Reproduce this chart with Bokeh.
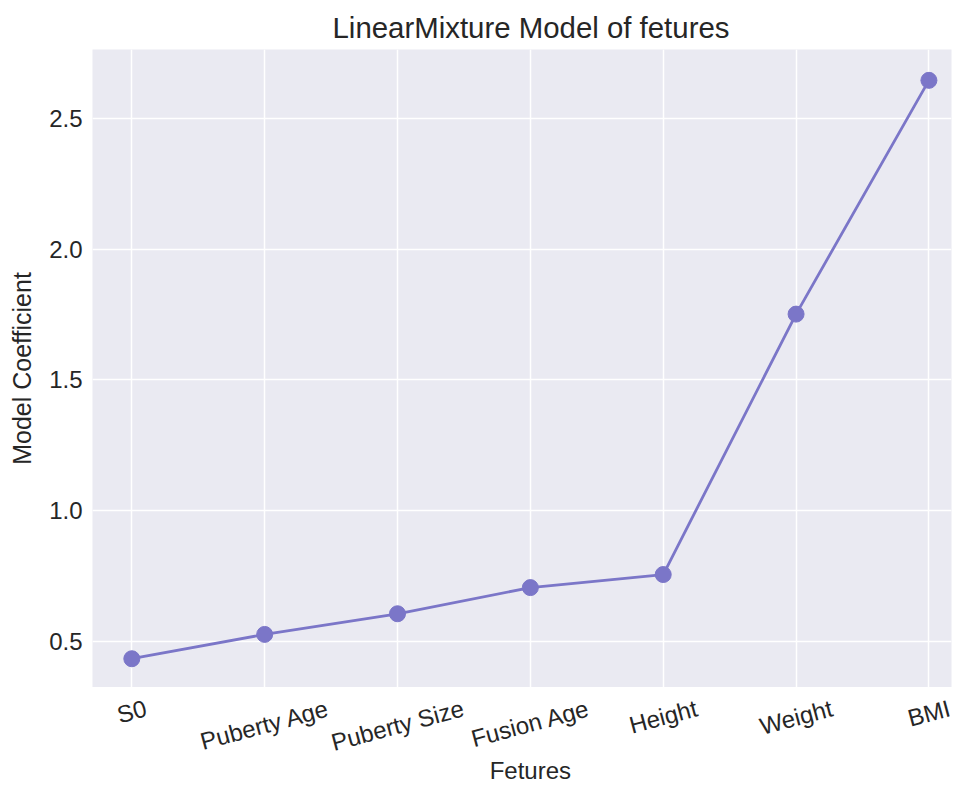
import math
from bokeh.plotting import figure
from bokeh.layouts import column
from bokeh.models import Range1d, FixedTicker, NumeralTickFormatter, ColumnDataSource
from bokeh.core.properties import value
from bokeh.embed import file_html
from bokeh.resources import INLINE

# ---- data ----
features = ["S0", "Puberty Age", "Puberty Size", "Fusion Age", "Height", "Weight", "BMI"]
coefficients = [0.433, 0.526, 0.605, 0.705, 0.755, 1.751, 2.645]
y_ticks = [0.5, 1.0, 1.5, 2.0, 2.5]

title_text = "LinearMixture Model of fetures"
x_label = "Fetures"
y_label = "Model Coefficient"

LINE_COLOR = "#7B76C8"
TEXT_COLOR = "#262626"
FONT = "Liberation Sans"
TICK_FS = 24
ROT = 15

W = 953
FRAME_LEFT, FRAME_RIGHT_PAD, FRAME_TOP, FRAME_BOTTOM = 92, 2, 49, 687
BOTTOM_H = 785 - FRAME_BOTTOM

x_pos = list(range(len(features)))
xr = Range1d(-0.296, 6.17)

p = figure(width=W, height=FRAME_BOTTOM,
           x_range=xr, y_range=Range1d(0.323, 2.763),
           output_backend="svg", toolbar_location=None,
           min_border_left=FRAME_LEFT, min_border_right=FRAME_RIGHT_PAD,
           min_border_top=FRAME_TOP, min_border_bottom=0)

p.background_fill_color = "#EAEAF2"
p.border_fill_color = "white"
p.outline_line_color = None

# title
p.title.text = title_text
p.title.text_font = FONT
p.title.text_font_size = "29.4px"
p.title.text_font_style = "normal"
p.title.text_color = TEXT_COLOR
p.title.align = "left"
p.title.offset = 240
p.title.standoff = 12

# x axis labels drawn in a strip below (matplotlib-like centred rotated labels)
p.xaxis.visible = False
p.xgrid.ticker = FixedTicker(ticks=x_pos)

# y axis
p.yaxis.ticker = FixedTicker(ticks=y_ticks)
p.ygrid.ticker = FixedTicker(ticks=y_ticks)
p.yaxis.formatter = NumeralTickFormatter(format="0.0")
p.yaxis.major_label_text_font = FONT
p.yaxis.major_label_text_font_size = f"{TICK_FS}px"
p.yaxis.major_label_text_color = TEXT_COLOR
p.yaxis.major_tick_out = 0
p.yaxis.major_tick_in = 0
p.yaxis.minor_tick_out = 0
p.yaxis.minor_tick_in = 0
p.yaxis.axis_line_color = None
p.yaxis.major_label_standoff = 10
p.yaxis.axis_label = y_label
p.yaxis.axis_label_text_font = FONT
p.yaxis.axis_label_text_font_size = "25px"
p.yaxis.axis_label_text_font_style = "normal"
p.yaxis.axis_label_text_color = TEXT_COLOR
p.yaxis.axis_label_standoff = 10

for g in (p.xgrid, p.ygrid):
    g.grid_line_color = "white"
    g.grid_line_width = 1.5

p.line(x_pos, coefficients, line_color=LINE_COLOR, line_width=2.8)
p.scatter(x_pos, coefficients, size=16, fill_color=LINE_COLOR, line_color=LINE_COLOR)

# ---- bottom strip: rotated category labels and x-axis label ----
p2 = figure(width=W, height=BOTTOM_H, x_range=xr, y_range=Range1d(0, BOTTOM_H),
            output_backend="svg", toolbar_location=None,
            min_border_left=FRAME_LEFT, min_border_right=FRAME_RIGHT_PAD,
            min_border_top=0, min_border_bottom=0)
p2.axis.visible = False
p2.grid.visible = False
p2.outline_line_color = None
p2.background_fill_color = "white"
p2.border_fill_color = "white"

# approximate advance widths (em) to place rotated labels like matplotlib (top-centred bbox)
cw = {"S": .667, "0": .556, "P": .667, "u": .556, "b": .556, "e": .556, "r": .333,
      "t": .278, "y": .5, " ": .278, "A": .667, "g": .556, "i": .222, "z": .5,
      "F": .611, "s": .5, "o": .556, "n": .556, "H": .722, "h": .556, "W": .944,
      "B": .667, "M": .833, "I": .278}
s, c = math.sin(math.radians(ROT)), math.cos(math.radians(ROT))
label_y = []
for name in features:
    w = sum(cw.get(ch, .55) for ch in name) * TICK_FS
    h = 1.13 * TICK_FS
    off = 7 + (w * s + h * c) / 2
    label_y.append(BOTTOM_H - off)

src = ColumnDataSource(dict(x=x_pos, y=label_y, text=features))
p2.text(x="x", y="y", text="text", source=src, angle=ROT, angle_units="deg",
        text_align="center", text_baseline="middle", text_font=value(FONT),
        text_font_size=f"{TICK_FS}px", text_color=TEXT_COLOR)

p2.text(x=[3], y=[BOTTOM_H - (770 - FRAME_BOTTOM)], text=[x_label],
        text_align="center", text_baseline="middle", text_font=value(FONT),
        text_font_size="24px", text_color=TEXT_COLOR)

layout = column(p, p2, spacing=0)
open("out.html", "w").write(file_html(layout, INLINE))
